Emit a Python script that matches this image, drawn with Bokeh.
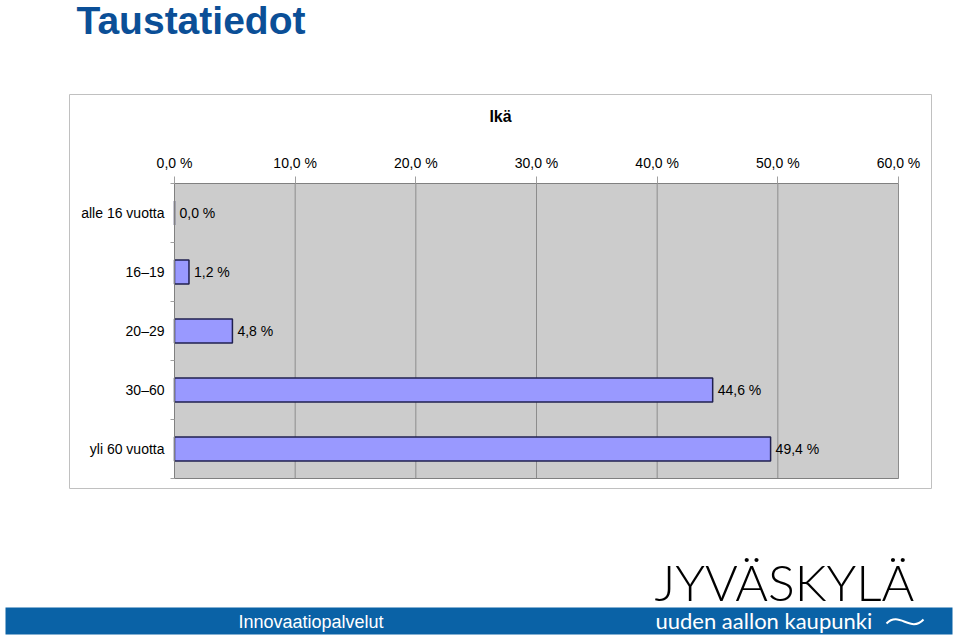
from bokeh.plotting import figure
from bokeh.models import Range1d, FixedTicker, LinearAxis, ColumnDataSource
from bokeh.core.properties import value
from bokeh.embed import file_html
from bokeh.resources import INLINE

# ---- data ----
categories = ["alle 16 vuotta", "16\u201319", "20\u201329", "30\u201360", "yli 60 vuotta"]
values = [0.0, 1.2, 4.8, 44.6, 49.4]
x_ticks = [0, 10, 20, 30, 40, 50, 60]
x_tick_labels = ["0,0 %", "10,0 %", "20,0 %", "30,0 %", "40,0 %", "50,0 %", "60,0 %"]
chart_title = "Ik\u00e4"
page_title = "Taustatiedot"
footer_text = "Innovaatiopalvelut"
logo_text = "JYV\u00c4SKYL\u00c4"
slogan_text = "uuden aallon kaupunki"

FONT = "Liberation Sans"
W, H = 960, 640
FL, FR, FT, FB = 174, 898, 183, 478   # plot-area edges in canvas pixels

n = len(categories)
x0, x1 = x_ticks[0], x_ticks[-1]
kx = (FR - FL) / (x1 - x0)
ky = (FB - FT) / n

positions = [i + 0.5 for i in range(n)]
boundaries = list(range(n + 1))
value_labels = [("%.1f %%" % v).replace(".", ",") for v in values]

p = figure(width=W, height=H, output_backend="svg", toolbar_location=None,
           x_range=Range1d(x0 - FL / kx, x1 + (W - FR) / kx),
           y_range=Range1d(n + (H - FB) / ky, -FT / ky),
           x_axis_location=None, y_axis_location=None, min_border=0)
p.background_fill_color = "white"
p.border_fill_color = "white"
p.outline_line_color = None
p.xgrid.visible = False
p.ygrid.visible = False
p.extra_x_ranges["px"] = Range1d(0, W)
p.extra_y_ranges["px"] = Range1d(H, 0)

# chart box
p.quad(left=[69], right=[931], top=[94], bottom=[488], x_range_name="px",
       y_range_name="px", fill_color=None, line_color="#c0c0c0", line_width=1)

# plot area background and grid
p.quad(left=[x0], right=[x1], top=[0], bottom=[n], fill_color="#cccccc", line_color=None)
p.segment(x0=x_ticks[1:], x1=x_ticks[1:], y0=[0] * (len(x_ticks) - 1),
          y1=[n] * (len(x_ticks) - 1), line_color="#8c8c8c", line_width=1)

# top axis
xa = LinearAxis(fixed_location=0, bounds=(x0, x1),
                ticker=FixedTicker(ticks=x_ticks, minor_ticks=[]))
xa.major_label_overrides = {t: l for t, l in zip(x_ticks, x_tick_labels)}
xa.major_label_text_font = FONT
xa.major_label_text_font_size = "14px"
xa.major_label_text_color = "black"
xa.axis_line_color = "#808080"
xa.major_tick_line_color = "#a0a0a0"
xa.major_tick_out = 7
xa.major_tick_in = 0
xa.major_label_standoff = 6
p.add_layout(xa, "above")

# left axis
ya = LinearAxis(fixed_location=x0, bounds=(0, n),
                ticker=FixedTicker(ticks=positions, minor_ticks=boundaries))
ya.major_label_overrides = {pos: c for pos, c in zip(positions, categories)}
ya.major_label_text_font = FONT
ya.major_label_text_font_size = "14px"
ya.major_label_text_color = "black"
ya.axis_line_color = "#808080"
ya.major_tick_line_color = None
ya.major_tick_out = 0
ya.major_tick_in = 0
ya.minor_tick_line_color = "#a0a0a0"
ya.minor_tick_out = 4
ya.minor_tick_in = 0
ya.major_label_standoff = 6
p.add_layout(ya, "left")

# bottom frame line
bx = LinearAxis(fixed_location=n, bounds=(x0, x1), ticker=FixedTicker(ticks=[]),
                axis_line_color="#808080", major_tick_line_color=None,
                minor_tick_line_color=None, major_label_text_font_size="0px")
p.add_layout(bx, "below")

# bars and value labels
src = ColumnDataSource(dict(y=positions, v=values, lbl=value_labels))
p.hbar(y="y", left=0, right="v", height=0.41, source=src,
       fill_color="#9999ff", line_color="#202050", line_width=1.5)
p.text(x="v", y="y", text="lbl", source=src, x_offset=5, text_baseline="middle",
       text_align="left", text_font=value(FONT), text_font_size="14px",
       text_color="black")

# footer band
p.quad(left=[5], right=[952], top=[607], bottom=[634], x_range_name="px",
       y_range_name="px", fill_color="#0a62a6", line_color=None)

# texts (page decorations, positioned in pixels)
def deco_text(x, y, txt, font, size, color, style="normal", align="left",
              baseline="middle"):
    p.text(x=[x], y=[y], text=[txt], x_range_name="px", y_range_name="px",
           text_font=value(font), text_font_size=size, text_color=color,
           text_font_style=style, text_align=align, text_baseline=baseline)

deco_text(76, 20, page_title, FONT, "39px", "#0b4f97", style="bold")
deco_text(500, 116, chart_title, FONT, "16px", "black", style="bold", align="center")
deco_text(238, 621, footer_text, FONT, "18px", "white")
deco_text(654, 581, logo_text, "Lato Light", "50px", "black")
deco_text(655, 620, slogan_text, "Lato", "22px", "white")

# wave after the slogan
p.bezier(x0=[886], y0=[623], x1=[923], y1=[619], cx0=[899], cy0=[610],
         cx1=[910], cy1=[633], x_range_name="px", y_range_name="px",
         line_color="white", line_width=2)

open("out.html", "w").write(file_html(p, INLINE))
